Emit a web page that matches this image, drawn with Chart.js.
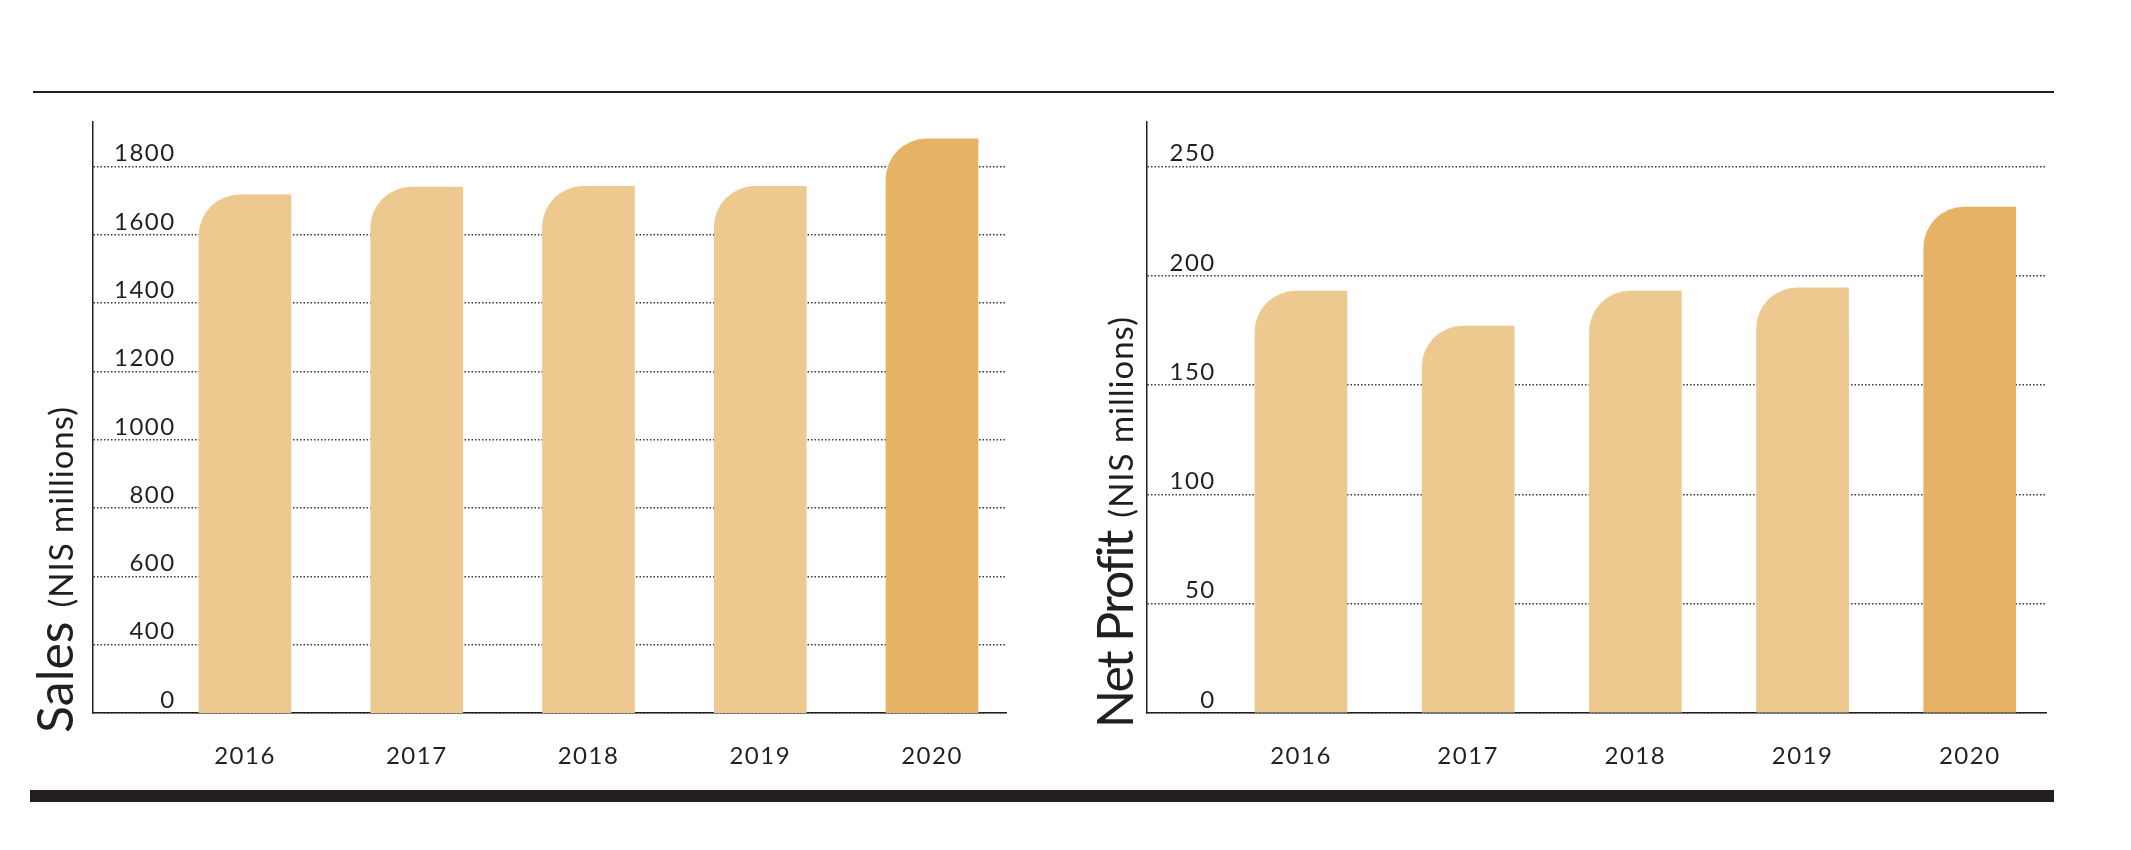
<!DOCTYPE html>
<html>
<head>
<meta charset="utf-8">
<script src="https://cdn.jsdelivr.net/npm/chart.js@4.4.1/dist/chart.umd.min.js"></script>
<style>
  html, body { margin: 0; padding: 0; background: #fff; }
  body { width: 2131px; height: 850px; position: relative; overflow: hidden; }
  .rule-top { position: absolute; left: 33px; top: 91px; width: 2021px; height: 2px; background: #231f20; }
  .rule-bottom { position: absolute; left: 30px; top: 790px; width: 2024px; height: 12px; background: #231f20; }
  .box { position: absolute; top: 0; height: 850px; }
  #salesBox { left: 0; width: 1065px; }
  #profitBox { left: 1065px; width: 1066px; }
</style>
</head>
<body>
<div class="rule-top"></div>
<div class="rule-bottom"></div>
<div class="box" id="salesBox"><canvas id="salesChart"></canvas></div>
<div class="box" id="profitBox"><canvas id="profitChart"></canvas></div>

<script>
// data
const years = [2016, 2017, 2018, 2019, 2020];
const sales = [1717, 1740, 1742, 1742, 1881];      // NIS millions
const netProfit = [193, 177, 193, 194.5, 231.5];   // NIS millions

const ink = '#231f20';
const barColors = ['#EDC98F', '#EDC98F', '#EDC98F', '#EDC98F', '#E5B266'];

// slightly spaced digits like the original typeface
const spacing = {
  id: 'spacing',
  beforeDraw(chart) { chart.ctx.letterSpacing = '1.5px'; }
};

// rotated axis title: big word + smaller unit on the same baseline
const axisTitle = {
  id: 'axisTitle',
  afterDraw(chart, args, opts) {
    const ctx = chart.ctx;
    ctx.save();
    ctx.translate(opts.x, opts.y);
    ctx.rotate(-Math.PI / 2);
    ctx.fillStyle = ink;
    ctx.textBaseline = 'alphabetic';
    ctx.textAlign = 'left';
    ctx.letterSpacing = opts.mainSpacing;
    ctx.font = '50px Lato';
    ctx.fillText(opts.main, 0, 0);
    const w = ctx.measureText(opts.main).width;
    ctx.letterSpacing = '1px';
    ctx.font = '33px Lato';
    ctx.fillText(opts.sub, w + 14, 0);
    ctx.restore();
  }
};

function makeChart(id, values, yMin, yMax, yStep, xMin, xMax, pad, title) {
  return new Chart(document.getElementById(id), {
    type: 'bar',
    data: {
      datasets: [{
        data: years.map((y, i) => ({ x: y, y: values[i] })),
        backgroundColor: barColors,
        barThickness: 92,
        borderRadius: { topLeft: 41, topRight: 0, bottomLeft: 0, bottomRight: 0 },
        borderSkipped: 'start'
      }]
    },
    options: {
      responsive: true,
      maintainAspectRatio: false,
      animation: false,
      layout: { padding: pad },
      plugins: {
        legend: { display: false },
        tooltip: { enabled: false },
        axisTitle: title
      },
      scales: {
        x: {
          type: 'linear',
          offset: false,
          min: xMin,
          max: xMax,
          grid: { display: false },
          border: { display: true, color: ink, width: 1.5 },
          afterFit: (s) => { s.height = 80; },
          ticks: {
            stepSize: 1,
            includeBounds: false,
            padding: 21,
            color: ink,
            font: { family: 'Lato', size: 24 },
            callback: (v) => String(v)
          }
        },
        y: {
          min: yMin,
          max: yMax,
          afterFit: (s) => { s.width = 0; },
          grid: { color: '#3a3a3a', lineWidth: 1.5, drawTicks: false },
          border: { display: true, color: ink, width: 1.5, dash: [1.5, 2] },
          ticks: {
            stepSize: yStep,
            includeBounds: false,
            mirror: true,
            crossAlign: 'far',
            padding: 27,
            labelOffset: -13,
            color: ink,
            font: { family: 'Lato', size: 24 },
            // the sales axis is broken: its baseline is labelled 0
            callback: (v) => (v === yMin ? '0' : String(v))
          }
        }
      }
    },
    plugins: [spacing, axisTitle]
  });
}

makeChart('salesChart', sales, 200, 1930.6, 200, 2015.115, 2020.431,
  { left: 93, top: 122, right: 59, bottom: 57 },
  { main: 'Sales', sub: '(NIS millions)', x: 73, y: 733, mainSpacing: '0px' });

makeChart('profitChart', netProfit, 0, 270.4, 50, 2015.079, 2020.456,
  { left: 82, top: 122, right: 85, bottom: 57 },
  { main: 'Net Profit', sub: '(NIS millions)', x: 68, y: 728, mainSpacing: '-2px' });
</script>
</body>
</html>
